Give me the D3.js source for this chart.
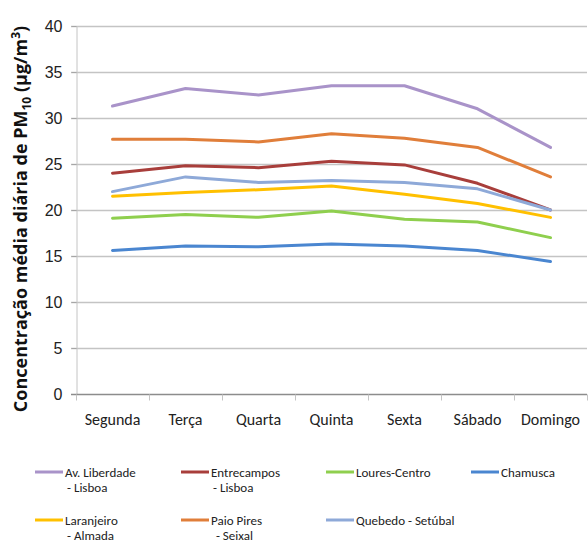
<!DOCTYPE html>
<html>
<head>
<meta charset="utf-8">
<script src="https://cdn.jsdelivr.net/npm/d3@7"></script>
<style>
  html, body { margin: 0; padding: 0; background: #fff; }
  svg { display: block; font-family: Carlito, "Liberation Sans Narrow", "Open Sans", sans-serif; }
</style>
</head>
<body>
<svg id="chart" width="588" height="543"></svg>
<script>
// Weekdays on the x axis
const days = ["Segunda", "Terça", "Quarta", "Quinta", "Sexta", "Sábado", "Domingo"];
const yTicks = [0, 5, 10, 15, 20, 25, 30, 35, 40];

// Mean daily PM10 concentration (µg/m³) per station
const avLiberdade = [31.3, 33.2, 32.5, 33.5, 33.5, 31.0, 26.8];
const entrecampos = [24.0, 24.8, 24.6, 25.3, 24.9, 22.9, 20.0];
const louresCentro = [19.1, 19.5, 19.2, 19.9, 19.0, 18.7, 17.0];
const chamusca = [15.6, 16.1, 16.0, 16.3, 16.1, 15.6, 14.4];
const laranjeiro = [21.5, 21.9, 22.2, 22.6, 21.7, 20.7, 19.2];
const paioPires = [27.7, 27.7, 27.4, 28.3, 27.8, 26.8, 23.6];
const quebedo = [22.0, 23.6, 23.0, 23.2, 23.0, 22.3, 20.0];

const stationNames = [
  ["Av. Liberdade", "- Lisboa"],
  ["Entrecampos", "- Lisboa"],
  ["Loures-Centro"],
  ["Chamusca"],
  ["Laranjeiro", "- Almada"],
  ["Paio Pires", " - Seixal"],
  ["Quebedo - Setúbal"]
];
const stationValues = [avLiberdade, entrecampos, louresCentro, chamusca, laranjeiro, paioPires, quebedo];
const stationColors = ["#A993C9", "#A83E3B", "#8FCF4E", "#4A86D0", "#FFC000", "#E07E3A", "#8EA9D8"];

const svg = d3.select("#chart");
const margin = { left: 76, right: 1, top: 26, bottom: 149 };
const W = 588, H = 543;

const x = d3.scaleBand().domain(days).range([margin.left, W - margin.right]).paddingInner(0).paddingOuter(0);
const y = d3.scaleLinear().domain([0, 40]).range([H - margin.bottom, margin.top]);

// Horizontal gridlines
svg.append("g")
  .selectAll("line")
  .data(yTicks.filter(t => t > 0))
  .join("line")
  .attr("x1", margin.left - 5)
  .attr("x2", W - margin.right)
  .attr("y1", d => Math.round(y(d)) + 0.5)
  .attr("y2", d => Math.round(y(d)) + 0.5)
  .attr("stroke", "#C4C4C4")
  .attr("stroke-width", 1.3);

// Y axis
const yAxis = d3.axisLeft(y).tickValues(yTicks).tickSize(5).tickPadding(9);
const gy = svg.append("g")
  .attr("transform", `translate(${margin.left + 0.5},0)`)
  .call(yAxis);
gy.select(".domain").attr("stroke", "#C4C4C4");
gy.selectAll(".tick line").attr("stroke", "#A6A6A6");
gy.selectAll(".tick text").attr("font-size", 16).attr("fill", "#222").attr("font-family", "inherit");

// X axis with ticks at category boundaries
const gx = svg.append("g")
  .attr("transform", `translate(0,${Math.round(y(0)) + 0.5})`);
gx.append("line")
  .attr("x1", margin.left - 5).attr("x2", W - margin.right)
  .attr("stroke", "#8C8C8C").attr("stroke-width", 1.3);
const boundaries = days.map(d => x(d)).concat([x.range()[1]]);
gx.selectAll("line.tk")
  .data(boundaries)
  .join("line")
  .attr("class", "tk")
  .attr("x1", d => Math.round(d) + 0.5).attr("x2", d => Math.round(d) + 0.5)
  .attr("y1", 0).attr("y2", 6)
  .attr("stroke", "#C4C4C4");
gx.selectAll("text")
  .data(days)
  .join("text")
  .attr("x", d => x(d) + x.bandwidth() / 2)
  .attr("y", 30)
  .attr("text-anchor", "middle")
  .attr("font-size", 16)
  .attr("fill", "#222")
  .text(d => d);

// Y axis title
const title = svg.append("text")
  .attr("transform", `translate(27,219) rotate(-90)`)
  .attr("text-anchor", "middle")
  .attr("font-family", "'Open Sans', 'DejaVu Sans', sans-serif")
  .attr("font-weight", "bold")
  .attr("font-size", 18)
  .attr("fill", "#111");
title.append("tspan").text("Concentração média diária de PM");
title.append("tspan").attr("font-size", 12).attr("dy", 4).text("10");
title.append("tspan").attr("dy", -4).text(" (µg/m");
title.append("tspan").attr("font-size", 12).attr("dy", -7).text("3");
title.append("tspan").attr("dy", 7).text(")");

// Station lines
const line = d3.line()
  .x((d, i) => x(days[i]) + x.bandwidth() / 2)
  .y(d => y(d));

svg.append("g")
  .selectAll("path")
  .data(stationValues)
  .join("path")
  .attr("d", d => line(d))
  .attr("fill", "none")
  .attr("stroke", (d, i) => stationColors[i])
  .attr("stroke-width", 3)
  .attr("stroke-linejoin", "round")
  .attr("stroke-linecap", "round");

// Legend: four columns, two rows
const colX = [35, 181, 326, 471];
const rowY = [472, 520];
const legend = svg.append("g");
stationNames.forEach((name, i) => {
  const cx = colX[i % 4], cy = rowY[Math.floor(i / 4)];
  const g = legend.append("g");
  g.append("line")
    .attr("x1", cx).attr("x2", cx + 28)
    .attr("y1", cy).attr("y2", cy)
    .attr("stroke", stationColors[i]).attr("stroke-width", 3);
  g.append("text")
    .attr("x", cx + 30).attr("y", cy + 4.5)
    .attr("font-size", 13).attr("fill", "#222")
    .text(name[0]);
  if (name[1]) {
    g.append("text")
      .attr("x", cx + 32).attr("y", cy + 20)
      .attr("font-size", 13).attr("fill", "#222")
      .attr("xml:space", "preserve")
      .text(name[1]);
  }
});
</script>
</body>
</html>
